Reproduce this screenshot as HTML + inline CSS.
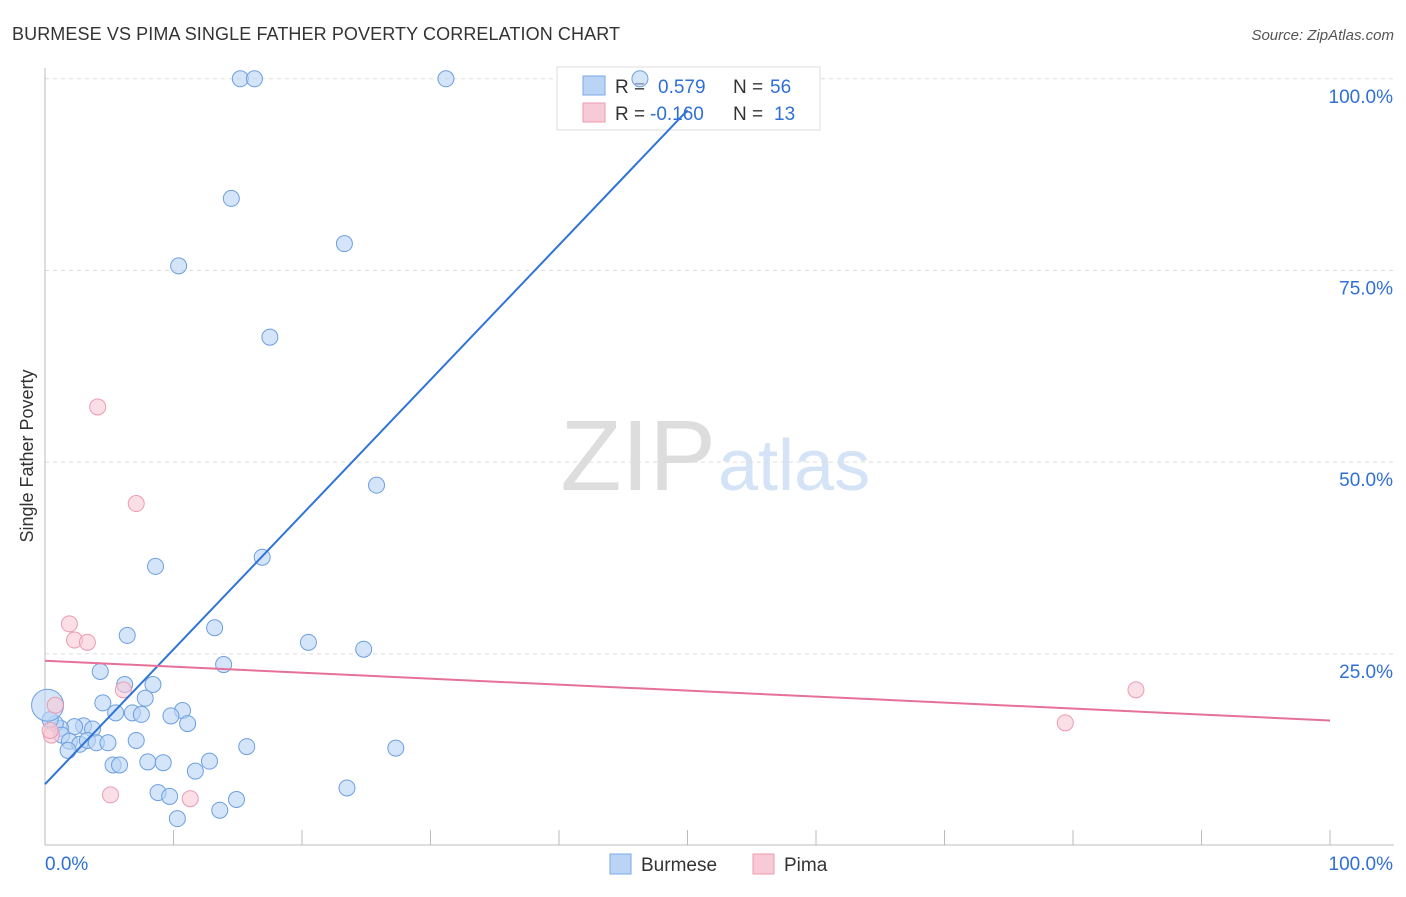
<!DOCTYPE html>
<html><head><meta charset="utf-8"><style>
body{margin:0;background:#fff;font-family:"Liberation Sans",sans-serif}
svg text{font-family:"Liberation Sans",sans-serif}
</style></head><body>
<svg id="c" width="1406" height="892">
<text x="12" y="40" font-size="18" fill="#333" textLength="608">BURMESE VS PIMA SINGLE FATHER POVERTY CORRELATION CHART</text>
<text x="1394" y="40" font-size="15" font-style="italic" fill="#555" text-anchor="end">Source: ZipAtlas.com</text>
<text x="33" y="456" font-size="18" fill="#333" text-anchor="middle" transform="rotate(-90 33 456)">Single Father Poverty</text>
<text x="716" y="490" font-size="100" fill="#ddd" text-anchor="end" font-family="Liberation Serif">ZIP</text>
<text x="718" y="490" font-size="72" fill="#d4e3f6">atlas</text>
<g id="grid"></g>
<g>
<rect x="557" y="67" width="263" height="63" fill="#fff" stroke="#ddd"/>
<rect x="583" y="76" width="22" height="19" fill="#b9d4f5" stroke="#7aa7e6"/>
<text x="615" y="93" font-size="19" fill="#333">R =</text>
<text x="658" y="93" font-size="19" fill="#2f6fd6">0.579</text>
<text x="733" y="93" font-size="19" fill="#333">N =</text>
<text x="770" y="93" font-size="19" fill="#2f6fd6">56</text>
<rect x="583" y="103" width="22" height="19" fill="#f8c9d6" stroke="#ec9ab2"/>
<text x="615" y="120" font-size="19" fill="#333">R =</text>
<text x="650" y="120" font-size="19" fill="#2f6fd6">-0.160</text>
<text x="733" y="120" font-size="19" fill="#333">N =</text>
<text x="774" y="120" font-size="19" fill="#2f6fd6">13</text>
</g>
<g id="pts"></g><g id="lines"></g>
<g>
<rect x="610" y="854" width="21" height="20" fill="#b9d4f5" stroke="#7aa7e6"/>
<text x="641" y="871" font-size="19" fill="#333">Burmese</text>
<rect x="753" y="854" width="21" height="20" fill="#f8c9d6" stroke="#ec9ab2"/>
<text x="784" y="871" font-size="19" fill="#333">Pima</text>
</g>
</svg>
<script>
const yTicks=[25,50,75,100];
const xTickLabels=["0.0%","100.0%"];
const burmeseX=[15.2,16.3,31.2,46.3,14.5,23.3,10.4,17.5,25.8,16.9,8.6,6.4,13.2,20.5,24.8,13.9,4.3,8.4,6.2,4.5,7.8,10.7,9.8,5.5,6.8,7.5,11.1,3.0,3.7,2.3,1.2,0.8,0.4,0.2,1.3,1.9,2.7,3.3,4.0,4.9,7.1,15.7,27.3,1.8,5.3,5.8,8.0,9.2,12.8,11.7,8.8,9.7,14.9,23.5,13.6,10.3];
const burmeseY=[100,100,100,100,84.4,78.5,75.6,66.3,47,37.6,36.4,27.4,28.4,26.5,25.6,23.6,22.7,21,21,18.6,19.2,17.6,16.9,17.3,17.3,17.1,15.9,15.6,15.2,15.5,15.3,15.9,16.4,18.3,14.4,13.6,13.2,13.7,13.4,13.4,13.7,12.9,12.7,12.4,10.5,10.5,10.9,10.8,11,9.7,6.9,6.4,6,7.5,4.6,3.5];
const pimaX=[4.1,7.1,1.9,2.3,3.3,6.1,0.8,0.5,5.1,11.3,84.9,79.4,0.4];
const pimaY=[57.2,44.6,28.9,26.8,26.5,20.3,18.3,14.4,6.6,6.1,20.3,16,15];
const burmeseTrendX=[0,50];
const burmeseTrendY=[8,95.9];
const pimaTrendX=[0,100],pimaTrendY=[24.1,16.3];
const sx=v=>45+v*12.85, sy=v=>845.5-v*7.667;
const NS="http://www.w3.org/2000/svg";
function mk(t,a,p){const e=document.createElementNS(NS,t);for(const k in a)e.setAttribute(k,a[k]);p.appendChild(e);return e;}
const g=document.getElementById('grid');
yTicks.forEach(t=>{const l=mk('line',{x1:45,x2:1394,y1:sy(t),y2:sy(t),stroke:'#ddd','stroke-dasharray':'4 4'},g);


const tx=mk('text',{x:1393,y:sy(t)+24,'font-size':19,fill:'#2f6fd6','text-anchor':'end'},g);tx.textContent=t.toFixed(1)+'%';

});
const ax=mk('line',{x1:45,x2:1394,y1:845,y2:845,stroke:'#bbb'},g);


const ay=mk('line',{x1:45,x2:45,y1:68,y2:845,stroke:'#bbb'},g);


for(let i=0;i<=10;i++){const t=mk('line',{x1:sx(i*10),x2:sx(i*10),y1:830,y2:845,stroke:'#bbb'},g);

}
[[0,'start',45],[1,'end',1393]].forEach(([i,a,x])=>{const t=mk('text',{x:x,y:870,'font-size':19,fill:'#2f6fd6','text-anchor':a},g);t.textContent=xTickLabels[i];

});
const p=document.getElementById('pts');
burmeseX.forEach((x,i)=>{const c=mk('circle',{cx:sx(x),cy:sy(burmeseY[i]),r:i==33?16:8,fill:'#b9d4f5','fill-opacity':0.6,stroke:'#6d9fe0'},p);

});
pimaX.forEach((x,i)=>{const c=mk('circle',{cx:sx(x),cy:sy(pimaY[i]),r:8,fill:'#f8c9d6','fill-opacity':0.6,stroke:'#ec9ab2'},p);

});
const L=document.getElementById('lines');
const b=mk('line',{x1:sx(burmeseTrendX[0]),y1:sy(burmeseTrendY[0]),x2:sx(burmeseTrendX[1]),y2:sy(burmeseTrendY[1]),stroke:'#2f74d8','stroke-width':2},L);


const q=mk('line',{x1:sx(pimaTrendX[0]),y1:sy(pimaTrendY[0]),x2:sx(pimaTrendX[1]),y2:sy(pimaTrendY[1]),stroke:'#e5709a','stroke-width':2},L);


</script>
</body></html>
